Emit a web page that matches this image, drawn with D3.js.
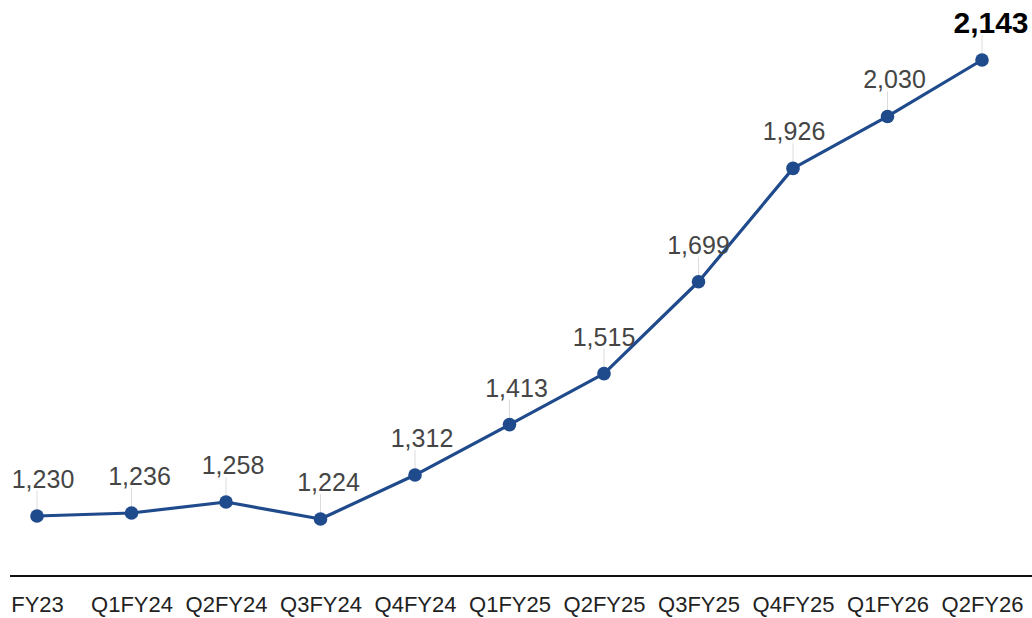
<!DOCTYPE html>
<html>
<head>
<meta charset="utf-8">
<script src="https://cdn.jsdelivr.net/npm/d3@7"></script>
<style>
  html, body { margin: 0; padding: 0; background: #fff; }
  svg { display: block; }
</style>
</head>
<body>
<svg id="chart" width="1032" height="618"></svg>
<script>
// Quarterly values
const categories = ["FY23", "Q1FY24", "Q2FY24", "Q3FY24", "Q4FY24", "Q1FY25", "Q2FY25", "Q3FY25", "Q4FY25", "Q1FY26", "Q2FY26"];
const values = [1230, 1236, 1258, 1224, 1312, 1413, 1515, 1699, 1926, 2030, 2143];
const valueLabels = ["1,230", "1,236", "1,258", "1,224", "1,312", "1,413", "1,515", "1,699", "1,926", "2,030", "2,143"];

const svg = d3.select("#chart");
const lineColor = "#1f4a8c";

const x = d3.scalePoint().domain(categories).range([37, 982]);
const y = d3.scaleLinear().domain([1230, 2143]).range([516, 60]);

const data = categories.map((c, i) => ({ cat: c, value: values[i], label: valueLabels[i], i }));
const lastIdx = data.length - 1;

// horizontal offset of each value label relative to its point
const labelShift = [6, 8, 7, 8, 7, 7, 0, 0, 1, 7, 9];

// baseline rule
svg.append("line")
  .attr("x1", 10).attr("x2", 1032)
  .attr("y1", 576).attr("y2", 576)
  .attr("stroke", "#111").attr("stroke-width", 2);

// category axis labels
const axis = d3.axisBottom(x).tickSize(0).tickPadding(0);
const gAxis = svg.append("g").attr("transform", "translate(0,596)").call(axis);
gAxis.select(".domain").remove();
gAxis.selectAll("text")
  .attr("font-family", "Liberation Sans, Arial, sans-serif")
  .attr("font-size", 22)
  .attr("fill", "#222");

// leader ticks from points up to labels
svg.append("g").selectAll("line")
  .data(data)
  .join("line")
  .attr("x1", d => x(d.cat)).attr("x2", d => x(d.cat))
  .attr("y1", d => y(d.value) - 6)
  .attr("y2", d => y(d.value) - 25)
  .attr("stroke", "#dcdcdc").attr("stroke-width", 1);

// line
svg.append("path")
  .datum(data)
  .attr("fill", "none")
  .attr("stroke", lineColor)
  .attr("stroke-width", 3.2)
  .attr("stroke-linejoin", "round")
  .attr("d", d3.line().x(d => x(d.cat)).y(d => y(d.value)));

// points
svg.append("g").selectAll("circle")
  .data(data)
  .join("circle")
  .attr("cx", d => x(d.cat))
  .attr("cy", d => y(d.value))
  .attr("r", 6.8)
  .attr("fill", lineColor);

// value labels
svg.append("g").selectAll("text")
  .data(data)
  .join("text")
  .attr("x", d => x(d.cat) + labelShift[d.i])
  .attr("y", d => y(d.value) - (d.i === lastIdx ? 27 : 28))
  .attr("text-anchor", "middle")
  .attr("font-family", "Liberation Sans, Arial, sans-serif")
  .attr("font-size", d => d.i === lastIdx ? 30 : 25)
  .attr("font-weight", d => d.i === lastIdx ? "bold" : "normal")
  .attr("fill", d => d.i === lastIdx ? "#000" : "#454545")
  .text(d => d.label);
</script>
</body>
</html>
